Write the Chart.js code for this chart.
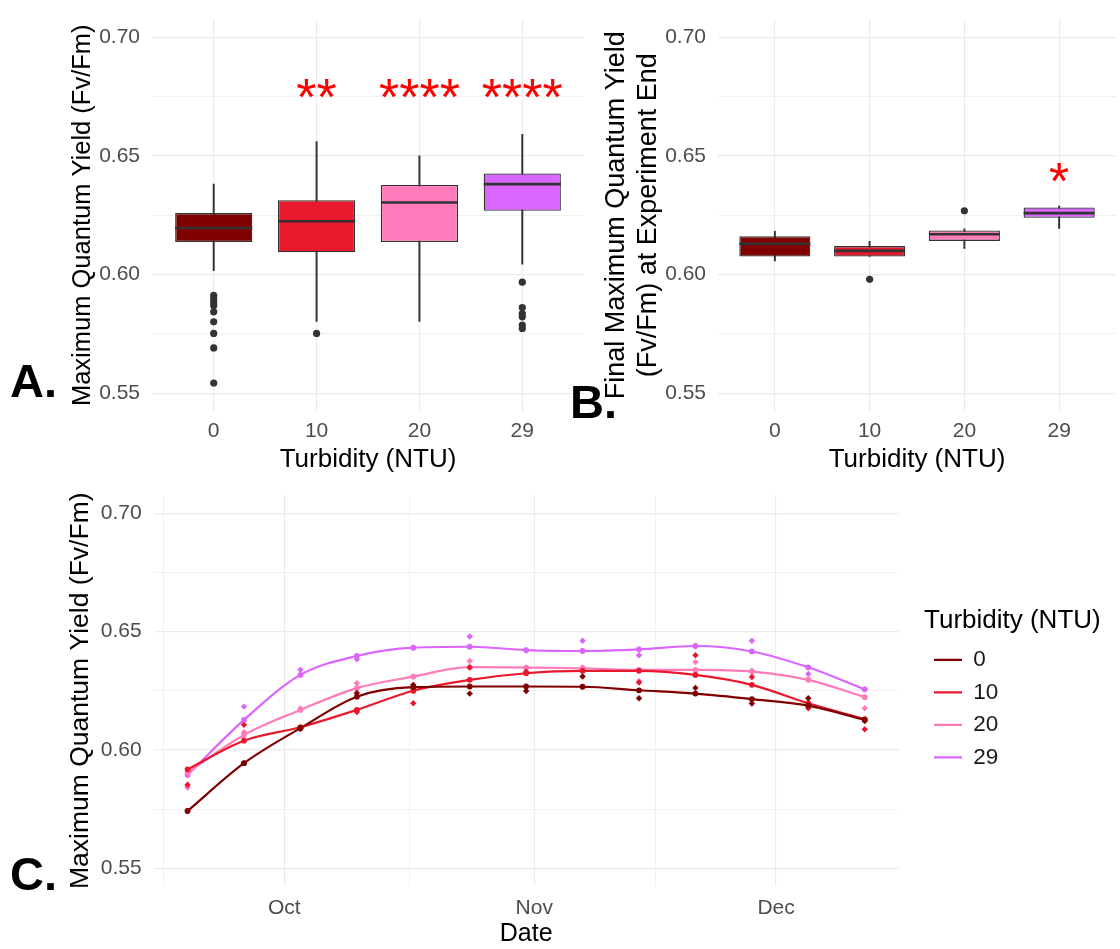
<!DOCTYPE html>
<html>
<head>
<meta charset="utf-8">
<script src="https://cdn.jsdelivr.net/npm/chart.js@4.4.0/dist/chart.umd.min.js"></script>
<style>
  body { margin: 0; background: #fff; }
  #page { position: relative; width: 1120px; height: 949px; overflow: hidden; background: #fff; }
  canvas { position: absolute; }
  .tag { position: absolute; font: bold 47px 'Liberation Sans', Arial, sans-serif; line-height: 47px; color: #000; }
</style>
</head>
<body>
<div id="page">
  <canvas id="chartA" width="590" height="480" style="left:0;top:0"></canvas>
  <canvas id="chartB" width="560" height="480" style="left:560px;top:0"></canvas>
  <canvas id="chartC" width="1120" height="469" style="left:0;top:480px"></canvas>
  <div class="tag" style="left:10px;top:357px">A.</div>
  <div class="tag" style="left:570px;top:378px">B.</div>
  <div class="tag" style="left:10px;top:850px">C.</div>
</div>
<script>
const FONT = "'Liberation Sans', Arial, sans-serif";
Chart.defaults.font.family = FONT;
Chart.defaults.animation = false;

// Turbidity treatments (NTU) and their colours
const turbidity = ['0', '10', '20', '29'];
const groupColors = ['#800000', '#E8192C', '#FF7BBA', '#DA66FF'];

// Shared y axis breaks (majors labelled, minors blank)
const yTickValues = [0.55, 0.575, 0.60, 0.625, 0.65, 0.675, 0.70];
const yTickLabels = ['0.55', '', '0.60', '', '0.65', '', '0.70'];

// Panel A - all measurements
const aWhiskLow = [0.6016, 0.5803, 0.5803, 0.6044];
const aQ1 = [0.6137, 0.6094, 0.6137, 0.6269];
const aMedian = [0.6196, 0.6225, 0.6304, 0.6381];
const aQ3 = [0.6259, 0.6313, 0.6378, 0.6426];
const aWhiskHigh = [0.6381, 0.6560, 0.6500, 0.6591];
const aOutliers = [
    [0.5912, 0.5898, 0.5884, 0.5870, 0.5843, 0.5801, 0.5752, 0.5691, 0.5543],
    [0.5752],
    [],
    [0.5968, 0.5861, 0.5836, 0.5822, 0.5787, 0.5773]
];
const aStars = ['', '**', '****', '****'];

// Panel B - final measurement at experiment end
const bWhiskLow = [0.6058, 0.6076, 0.6110, 0.6194];
const bQ1 = [0.6076, 0.6076, 0.6142, 0.6239];
const bMedian = [0.6130, 0.6100, 0.6170, 0.6259];
const bQ3 = [0.6162, 0.6120, 0.6186, 0.6283];
const bWhiskHigh = [0.6182, 0.6140, 0.6193, 0.6289];
const bOutliers = [[], [0.5980], [0.6269], []];
const bStars = ['', '', '', '*'];

// Panel C - weekly values and smoothed trend per treatment
const cDates = ['2021-09-19', '2021-09-26', '2021-10-03', '2021-10-10', '2021-10-17', '2021-10-24', '2021-10-31',
    '2021-11-07', '2021-11-14', '2021-11-21', '2021-11-28', '2021-12-05', '2021-12-12'];
const cFit0 = [0.5742, 0.5944, 0.6092, 0.6225, 0.6265, 0.6268, 0.6268, 0.6267, 0.6252, 0.6238, 0.6215, 0.6187, 0.6127];
const cFit10 = [0.5918, 0.6039, 0.6096, 0.6169, 0.6250, 0.6296, 0.6324, 0.6334, 0.6334, 0.6317, 0.6275, 0.6197, 0.6130];
const cFit20 = [0.5904, 0.6063, 0.6169, 0.6261, 0.6310, 0.6350, 0.6348, 0.6345, 0.6338, 0.6338, 0.6331, 0.6296, 0.6223];
const cFit29 = [0.5894, 0.6127, 0.6317, 0.6397, 0.6432, 0.6436, 0.6422, 0.6418, 0.6425, 0.6439, 0.6416, 0.6349, 0.6256];
const cPts0 = [0.5742, 0.5944, 0.6089, 0.6240, 0.6275, 0.6238, 0.6249, 0.6310, 0.6218, 0.6262, 0.6196, 0.6218, 0.6122];
const cPts10 = [0.5853, 0.6106, 0.6089, 0.6160, 0.6197, 0.6348, 0.6330, 0.6335, 0.6285, 0.6400, 0.6308, 0.6176, 0.6087];
const cPts20 = [0.5845, 0.6075, 0.6175, 0.6282, 0.6310, 0.6376, 0.6345, 0.6348, 0.6291, 0.6371, 0.6335, 0.6300, 0.6176];
const cPts29 = [0.5841, 0.6183, 0.6339, 0.6383, 0.6432, 0.6479, 0.6420, 0.6461, 0.6400, 0.6439, 0.6461, 0.6321, 0.6256];
const monthStarts = ['2021-09-01', '2021-10-01', '2021-11-01', '2021-12-01', '2022-01-01'];
const monthLabels = ['Sep', 'Oct', 'Nov', 'Dec', 'Jan'];

const toDay = s => Date.parse(s + 'T00:00:00Z') / 86400000;

// y axis used by every panel
function yAxis(title, titleFont, titleOffset, width) {
    return {
        min: 0.5425,
        max: 0.7075,
        beginAtZero: false,
        afterBuildTicks: s => { s.ticks = yTickValues.map(v => ({value: v})); },
        afterFit: s => { s.width = width; },
        ticks: {
            padding: 0,
            autoSkip: false,
            color: '#4D4D4D',
            font: {size: 21},
            callback: (v, i) => yTickLabels[i]
        },
        grid: {
            color: '#EBEBEB',
            lineWidth: c => (yTickLabels[c.index] ? 1.2 : 0.7),
            drawTicks: true,
            tickLength: 12,
            tickColor: 'rgba(0,0,0,0)'
        },
        border: {display: false},
        title: {display: true, text: title, color: '#000', font: titleFont, padding: {top: titleOffset, bottom: 0}}
    };
}

// Red significance stars above the boxes
function starPlugin(stars, starY) {
    return {
        id: 'stars',
        afterDatasetsDraw(chart) {
            const {ctx, scales: {x, y}} = chart;
            ctx.save();
            ctx.fillStyle = '#FF0000';
            ctx.font = '52px ' + FONT;
            ctx.textAlign = 'center';
            ctx.textBaseline = 'alphabetic';
            stars.forEach((s, i) => {
                if (s) ctx.fillText(s, x.getPixelForValue(i), y.getPixelForValue(starY));
            });
            ctx.restore();
        }
    };
}

function boxChart(canvasId, box, yTitle) {
    const idx = turbidity.map((t, i) => i);
    const outlierPts = [];
    box.outliers.forEach((list, i) => list.forEach(v => outlierPts.push({x: i, y: v})));
    const halfBox = c => {
        const x = c.chart.scales.x;
        return (x.getPixelForValue(1) - x.getPixelForValue(0)) * 0.75 / 2;
    };

    return new Chart(document.getElementById(canvasId), {
        type: 'bar',
        data: {
            datasets: [{
                // whiskers
                data: idx.map(i => ({x: i, y: [box.low[i], box.high[i]]})),
                backgroundColor: '#333333',
                barThickness: 1.3,
                grouped: false,
                order: 3
            }, {
                // boxes
                data: idx.map(i => ({x: i, y: [box.q1[i], box.q3[i]]})),
                backgroundColor: groupColors,
                borderColor: '#333333',
                borderWidth: 1.3,
                borderSkipped: false,
                barPercentage: 0.75,
                categoryPercentage: 1,
                grouped: false,
                order: 2
            }, {
                // medians
                type: 'line',
                showLine: false,
                data: idx.map(i => ({x: i, y: box.median[i]})),
                pointStyle: 'line',
                pointRadius: halfBox,
                pointBorderColor: '#333333',
                pointBorderWidth: 2.6,
                order: 1
            }, {
                // outliers
                type: 'line',
                showLine: false,
                data: outlierPts,
                pointRadius: 3.6,
                pointBackgroundColor: '#333333',
                pointBorderWidth: 0,
                order: 0
            }]
        },
        options: {
            responsive: false,
            layout: {padding: {left: 0, top: 19.5, right: box.padRight, bottom: 0}},
            plugins: {legend: {display: false}, tooltip: {enabled: false}},
            scales: {
                x: {
                    type: 'linear',
                    min: -0.6,
                    max: 3.6,
                    offset: false,
                    afterBuildTicks: s => { s.ticks = idx.map(i => ({value: i})); },
                    afterFit: s => { s.height = 69; },
                    ticks: {
                        padding: 8,
                        autoSkip: false,
                        maxRotation: 0,
                        color: '#4D4D4D',
                        font: {size: 21},
                        callback: (v, i) => turbidity[i]
                    },
                    grid: {color: '#EBEBEB', lineWidth: 1.2, drawTicks: false, offset: false},
                    border: {display: false},
                    title: {display: true, text: 'Turbidity (NTU)', color: '#000', font: {size: 26}, padding: {top: 0, bottom: 4.4}}
                },
                y: yAxis(yTitle.text, yTitle.font, yTitle.offset, box.axisWidth)
            }
        },
        plugins: [starPlugin(box.stars, box.starY)]
    });
}

boxChart('chartA', {
    low: aWhiskLow, q1: aQ1, median: aMedian, q3: aQ3, high: aWhiskHigh,
    outliers: aOutliers, stars: aStars, starY: 0.6672, axisWidth: 152, padRight: 6
}, {text: 'Maximum Quantum Yield (Fv/Fm)', font: {size: 25.5}, offset: 67.7});

boxChart('chartB', {
    low: bWhiskLow, q1: bQ1, median: bMedian, q3: bQ3, high: bWhiskHigh,
    outliers: bOutliers, stars: bStars, starY: 0.6320, axisWidth: 158, padRight: 0
}, {text: ['Final Maximum Quantum Yield', '(Fv/Fm) at Experiment End'], font: {size: 27, lineHeight: 1.15}, offset: 41.5});

// Panel C
const cDays = cDates.map(toDay);
const cSpan = cDays[cDays.length - 1] - cDays[0];
const cMin = cDays[0] - 0.05 * cSpan;
const cMax = cDays[cDays.length - 1] + 0.05 * cSpan;
const monthDays = monthStarts.map(toDay);
const cTicks = [];
monthDays.forEach((d, i) => {
    if (i > 0) cTicks.push({value: (monthDays[i - 1] + d) / 2, name: '', minor: true});
    cTicks.push({value: d, name: monthLabels[i], minor: false});
});
const cVisibleTicks = cTicks.filter(t => t.value >= cMin && t.value <= cMax);

const cFits = [cFit0, cFit10, cFit20, cFit29];
const cPts = [cPts0, cPts10, cPts20, cPts29];
const cDatasets = [];
turbidity.forEach((t, g) => {
    cDatasets.push({
        label: t,
        data: cDays.map((d, i) => ({x: d, y: cFits[g][i]})),
        borderColor: groupColors[g],
        backgroundColor: groupColors[g],
        borderWidth: 2.2,
        pointRadius: 1.8,
        pointBackgroundColor: groupColors[g],
        cubicInterpolationMode: 'monotone'
    });
    cDatasets.push({
        label: t + ' obs',
        isPoints: true,
        showLine: false,
        data: cDays.map((d, i) => ({x: d, y: cPts[g][i]})),
        pointStyle: 'rectRot',
        pointRadius: 3.2,
        pointBackgroundColor: groupColors[g],
        pointBorderWidth: 0
    });
});

// widen the legend box so its title is not clipped
const legendWidth = {
    id: 'legendWidth',
    beforeLayout(chart) {
        const lg = chart.legend;
        if (lg && !lg._widened) {
            const fit = lg.fit.bind(lg);
            lg.fit = function() { fit(); this.width = 196; };
            lg._widened = true;
        }
    }
};

new Chart(document.getElementById('chartC'), {
    type: 'line',
    data: {datasets: cDatasets},
    options: {
        responsive: false,
        layout: {padding: {left: 0, top: 15.5, right: 0, bottom: 0}},
        plugins: {
            tooltip: {enabled: false},
            legend: {
                position: 'right',
                align: 'start',
                labels: {
                    filter: (item, data) => !data.datasets[item.datasetIndex].isPoints,
                    usePointStyle: true,
                    pointStyle: 'line',
                    pointStyleWidth: 28,
                    padding: 10,
                    color: '#1A1A1A',
                    font: {size: 22.5}
                },
                title: {display: true, text: 'Turbidity (NTU)', position: 'start', color: '#000', font: {size: 26}, padding: {top: 112, bottom: 0}}
            }
        },
        scales: {
            x: {
                type: 'linear',
                min: cMin,
                max: cMax,
                afterBuildTicks: s => { s.ticks = cVisibleTicks.map(t => ({value: t.value})); },
                afterFit: s => { s.height = 63; },
                ticks: {
                    padding: 9.4,
                    autoSkip: false,
                    maxRotation: 0,
                    color: '#4D4D4D',
                    font: {size: 21},
                    callback: (v, i) => cVisibleTicks[i].name
                },
                grid: {
                    color: '#EBEBEB',
                    lineWidth: c => (cVisibleTicks[c.index] && cVisibleTicks[c.index].minor ? 0.7 : 1.2),
                    drawTicks: false
                },
                border: {display: false},
                title: {display: true, text: 'Date', color: '#000', font: {size: 25}, padding: {top: 0, bottom: 0}}
            },
            y: yAxis('Maximum Quantum Yield (Fv/Fm)', {size: 26.5}, 64.6, 153.7),
            yPad: {
                position: 'right',
                afterFit: s => { s.width = 25.4; },
                ticks: {display: false},
                grid: {display: false},
                border: {display: false}
            }
        }
    },
    plugins: [legendWidth]
});
</script>
</body>
</html>
